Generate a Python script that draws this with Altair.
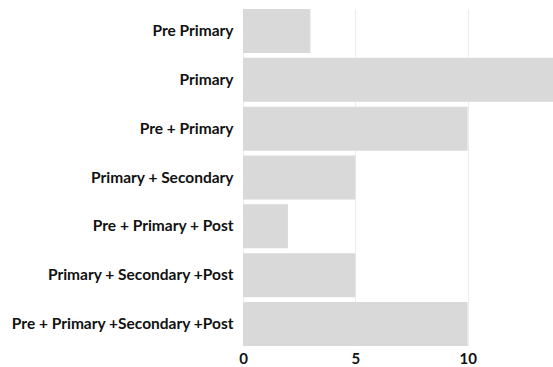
import altair as alt
import pandas as pd

categories = [
    "Pre Primary",
    "Primary",
    "Pre + Primary",
    "Primary + Secondary",
    "Pre + Primary + Post",
    "Primary + Secondary +Post",
    "Pre + Primary +Secondary +Post",
]
values = [3, 14, 10, 5, 2, 5, 10]
x_ticks = [0, 5, 10]

df = pd.DataFrame({"category": categories, "value": values})

chart = (
    alt.Chart(df)
    .mark_bar(color="#d9d9d9", clip=True)
    .encode(
        y=alt.Y(
            "category:N",
            sort=categories,
            title=None,
            scale=alt.Scale(paddingInner=0.1, paddingOuter=0),
            axis=alt.Axis(
                domain=False,
                ticks=False,
                grid=False,
                labelFont="Lato",
                labelFontWeight="bold",
                labelFontSize=15.5,
                labelColor="#111111",
                labelPadding=10,
                labelLimit=300,
            ),
        ),
        x=alt.X(
            "value:Q",
            title=None,
            scale=alt.Scale(domain=[0, 13.8], nice=False, zero=True),
            axis=alt.Axis(
                values=x_ticks,
                domain=False,
                ticks=False,
                grid=True,
                gridColor="#ececec",
                gridWidth=1,
                labelFont="Lato",
                labelFontWeight="bold",
                labelFontSize=15,
                labelColor="#111111",
                labelPadding=5,
                labelFlush=False,
            ),
        ),
    )
    .properties(
        width=310,
        height=337,
        background="white",
        autosize=alt.AutoSizeParams(type="none"),
        padding={"left": 243, "top": 9, "right": 0, "bottom": 21},
    )
    .configure_view(strokeWidth=0, stroke="transparent")
)

chart.save("out.html", embed_options={"renderer": "svg", "actions": False})
